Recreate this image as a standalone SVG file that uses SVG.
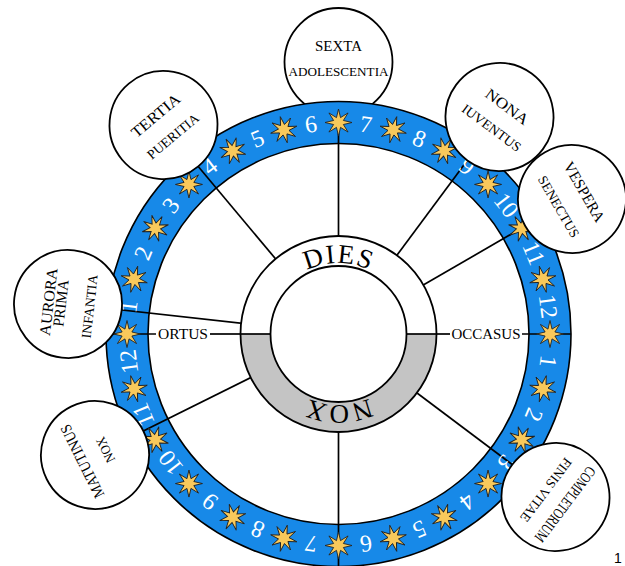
<svg xmlns="http://www.w3.org/2000/svg" width="625" height="566" viewBox="0 0 625 566">
<style>
.c{fill:#fff;stroke:#000;stroke-width:1.8}
.sp{stroke:#000;stroke-width:1.7;fill:none}
.t1{font-family:"Liberation Serif",serif;font-size:15.5px;fill:#000;text-anchor:middle}
.t2{font-family:"Liberation Serif",serif;font-size:13.5px;fill:#000;text-anchor:middle}
.n{font-family:"Liberation Serif",serif;font-size:24px;fill:#fff;text-anchor:middle}
.big{font-family:"Liberation Serif",serif;font-size:27px;letter-spacing:1.5px;fill:#000;text-anchor:middle}
.lbl{font-family:"Liberation Serif",serif;font-size:15px;fill:#000;text-anchor:middle}
</style>
<defs>
<polygon id="star" points="0,-13.5 2.02,-4.88 9.55,-9.55 4.88,-2.02 13.5,0 4.88,2.02 9.55,9.55 2.02,4.88 0,13.5 -2.02,4.88 -9.55,9.55 -4.88,2.02 -13.5,0 -4.88,-2.02 -9.55,-9.55 -2.02,-4.88" fill="#f9c95b" stroke="#222" stroke-width="0.9"/>
<path id="arcTop" d="M267.5,334 A71,71 0 0 1 409.5,334"/>
<path id="arcBot" d="M409.5,334 A71,71 0 0 1 267.5,334"/>
</defs>
<rect width="625" height="566" fill="#fff"/>

<g id="sexta">
<circle class="c" cx="338.5" cy="62" r="54"/>
<text class="t1" x="338.5" y="51" textLength="47" lengthAdjust="spacingAndGlyphs">SEXTA</text>
<text class="t2" x="338.5" y="76" textLength="100" lengthAdjust="spacingAndGlyphs">ADOLESCENTIA</text>
</g>

<g id="ring">
<circle cx="338.5" cy="334" r="211.5" fill="none" stroke="#1789e8" stroke-width="42"/>
<circle cx="338.5" cy="334" r="232.5" fill="none" stroke="#000" stroke-width="1.6"/>
<circle cx="338.5" cy="334" r="190.5" fill="none" stroke="#000" stroke-width="1.6"/>
</g>

<g id="connectors" class="sp">
<line x1="338.5" y1="334" x2="338.5" y2="123"/>
<line x1="338.5" y1="334" x2="338.5" y2="566"/>
<line x1="338.5" y1="334" x2="163.5" y2="125"/>
<line x1="338.5" y1="334" x2="499.5" y2="117"/>
<line x1="338.5" y1="334" x2="572" y2="199"/>
<line x1="338.5" y1="334" x2="68" y2="304"/>
<line x1="338.5" y1="334" x2="95" y2="455"/>
<line x1="338.5" y1="334" x2="555.5" y2="497"/>
<line x1="106" y1="334" x2="156" y2="334"/>
<line x1="210" y1="334" x2="240.5" y2="334"/>
<line x1="436.5" y1="334" x2="450" y2="334"/>
<line x1="522" y1="334" x2="571" y2="334"/>
</g>

<g id="labels">
<text class="lbl" x="183" y="339" textLength="50" lengthAdjust="spacingAndGlyphs">ORTUS</text>
<text class="lbl" x="486" y="339" textLength="69" lengthAdjust="spacingAndGlyphs">OCCASUS</text>
</g>

<g id="stars">
<use href="#star" transform="rotate(0 338.5 334) translate(338.5 122.5)"/>
<use href="#star" transform="rotate(15 338.5 334) translate(338.5 122.5)"/>
<use href="#star" transform="rotate(30 338.5 334) translate(338.5 122.5)"/>
<use href="#star" transform="rotate(45 338.5 334) translate(338.5 122.5)"/>
<use href="#star" transform="rotate(60 338.5 334) translate(338.5 122.5)"/>
<use href="#star" transform="rotate(75 338.5 334) translate(338.5 122.5)"/>
<use href="#star" transform="rotate(90 338.5 334) translate(338.5 122.5)"/>
<use href="#star" transform="rotate(105 338.5 334) translate(338.5 122.5)"/>
<use href="#star" transform="rotate(120 338.5 334) translate(338.5 122.5)"/>
<use href="#star" transform="rotate(135 338.5 334) translate(338.5 122.5)"/>
<use href="#star" transform="rotate(150 338.5 334) translate(338.5 122.5)"/>
<use href="#star" transform="rotate(165 338.5 334) translate(338.5 122.5)"/>
<use href="#star" transform="rotate(180 338.5 334) translate(338.5 122.5)"/>
<use href="#star" transform="rotate(195 338.5 334) translate(338.5 122.5)"/>
<use href="#star" transform="rotate(210 338.5 334) translate(338.5 122.5)"/>
<use href="#star" transform="rotate(225 338.5 334) translate(338.5 122.5)"/>
<use href="#star" transform="rotate(240 338.5 334) translate(338.5 122.5)"/>
<use href="#star" transform="rotate(255 338.5 334) translate(338.5 122.5)"/>
<use href="#star" transform="rotate(270 338.5 334) translate(338.5 122.5)"/>
<use href="#star" transform="rotate(285 338.5 334) translate(338.5 122.5)"/>
<use href="#star" transform="rotate(300 338.5 334) translate(338.5 122.5)"/>
<use href="#star" transform="rotate(315 338.5 334) translate(338.5 122.5)"/>
<use href="#star" transform="rotate(330 338.5 334) translate(338.5 122.5)"/>
<use href="#star" transform="rotate(345 338.5 334) translate(338.5 122.5)"/>
</g>

<g id="hours">
<text class="n" x="338.5" y="130.5" transform="rotate(-82.5 338.5 334)">1</text>
<text class="n" x="338.5" y="130.5" transform="rotate(-67.5 338.5 334)">2</text>
<text class="n" x="338.5" y="130.5" transform="rotate(-52.5 338.5 334)">3</text>
<text class="n" x="338.5" y="130.5" transform="rotate(-37.5 338.5 334)">4</text>
<text class="n" x="338.5" y="130.5" transform="rotate(-22.5 338.5 334)">5</text>
<text class="n" x="338.5" y="130.5" transform="rotate(-7.5 338.5 334)">6</text>
<text class="n" x="338.5" y="130.5" transform="rotate(7.5 338.5 334)">7</text>
<text class="n" x="338.5" y="130.5" transform="rotate(22.5 338.5 334)">8</text>
<text class="n" x="338.5" y="130.5" transform="rotate(37.5 338.5 334)">9</text>
<text class="n" x="338.5" y="130.5" transform="rotate(52.5 338.5 334)">10</text>
<text class="n" x="338.5" y="130.5" transform="rotate(67.5 338.5 334)">11</text>
<text class="n" x="338.5" y="130.5" transform="rotate(82.5 338.5 334)">12</text>
<text class="n" x="338.5" y="130.5" transform="rotate(97.5 338.5 334)">1</text>
<text class="n" x="338.5" y="130.5" transform="rotate(112.5 338.5 334)">2</text>
<text class="n" x="338.5" y="130.5" transform="rotate(127.5 338.5 334)">3</text>
<text class="n" x="338.5" y="130.5" transform="rotate(142.5 338.5 334)">4</text>
<text class="n" x="338.5" y="130.5" transform="rotate(157.5 338.5 334)">5</text>
<text class="n" x="338.5" y="130.5" transform="rotate(172.5 338.5 334)">6</text>
<text class="n" x="338.5" y="130.5" transform="rotate(187.5 338.5 334)">7</text>
<text class="n" x="338.5" y="130.5" transform="rotate(202.5 338.5 334)">8</text>
<text class="n" x="338.5" y="130.5" transform="rotate(217.5 338.5 334)">9</text>
<text class="n" x="338.5" y="130.5" transform="rotate(232.5 338.5 334)">10</text>
<text class="n" x="338.5" y="130.5" transform="rotate(247.5 338.5 334)">11</text>
<text class="n" x="338.5" y="130.5" transform="rotate(262.5 338.5 334)">12</text>
</g>

<g id="tertia" transform="translate(163.5 125) rotate(-40)">
<circle class="c" r="54"/>
<text class="t1" y="-7" textLength="59" lengthAdjust="spacingAndGlyphs">TERTIA</text>
<text class="t2" y="19.3" textLength="63" lengthAdjust="spacingAndGlyphs">PUERITIA</text>
</g>

<g id="nona" transform="translate(499.5 117) rotate(36.5)">
<circle class="c" r="54"/>
<text class="t1" y="-7.6" textLength="50" lengthAdjust="spacingAndGlyphs">NONA</text>
<text class="t2" y="18" textLength="70" lengthAdjust="spacingAndGlyphs">IUVENTUS</text>
</g>

<g id="vespera" transform="translate(572 199) rotate(60)">
<circle class="c" r="54"/>
<text class="t1" y="-9" textLength="67" lengthAdjust="spacingAndGlyphs">VESPERA</text>
<text class="t2" y="20" textLength="69" lengthAdjust="spacingAndGlyphs">SENECTUS</text>
</g>

<g id="aurora" transform="translate(68 304) rotate(-83.5)">
<circle class="c" r="54"/>
<text class="t1" y="-14.4" textLength="68" lengthAdjust="spacingAndGlyphs">AURORA</text>
<text class="t1" y="-2" textLength="47" lengthAdjust="spacingAndGlyphs">PRIMA</text>
<text class="t2" y="26.3" textLength="64" lengthAdjust="spacingAndGlyphs">INFANTIA</text>
</g>

<g id="matutinus" transform="translate(95 455) rotate(-116.4)">
<circle class="c" r="54"/>
<text class="t1" y="-9" textLength="80" lengthAdjust="spacingAndGlyphs">MATUTINUS</text>
<text class="t2" y="16.3" textLength="27" lengthAdjust="spacingAndGlyphs">NOX</text>
</g>

<g id="completorium" transform="translate(555.5 497) rotate(127)">
<circle class="c" r="54"/>
<text class="t1" y="-7" textLength="90" lengthAdjust="spacingAndGlyphs">COMPLETORIUM</text>
<text class="t2" y="16.3" textLength="76" lengthAdjust="spacingAndGlyphs">FINIS VITAE</text>
</g>

<g id="dies-nox">
<circle cx="338.5" cy="334" r="98" fill="#fff"/>
<path d="M240.5,334 A98,98 0 0 0 436.5,334 L406.5,334 A68,68 0 0 1 270.5,334 Z" fill="#c4c4c4"/>
<circle cx="338.5" cy="334" r="98" fill="none" stroke="#000" stroke-width="1.8"/>
<circle cx="338.5" cy="334" r="68" fill="#fff" stroke="#000" stroke-width="1.8"/>
<line class="sp" x1="240.5" y1="334" x2="270.5" y2="334"/>
<line class="sp" x1="406.5" y1="334" x2="436.5" y2="334"/>
<text class="big"><textPath href="#arcTop" startOffset="50%">DIES</textPath></text>
<text class="big"><textPath href="#arcBot" startOffset="50%">NOX</textPath></text>
</g>

<text x="618" y="563" font-family="Liberation Sans, sans-serif" font-size="14" text-anchor="middle" fill="#000">1</text>
</svg>
